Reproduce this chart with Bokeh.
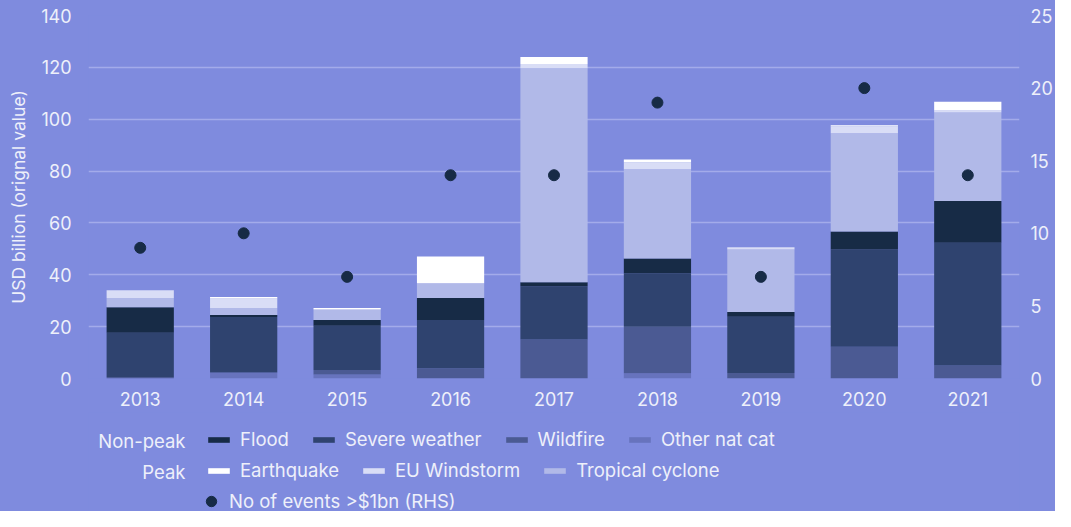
from bokeh.plotting import figure
from bokeh.models import (FactorRange, Range1d, LinearAxis, FixedTicker, Legend,
                          LegendItem, Label, ColumnDataSource)
from bokeh.layouts import column
from bokeh.embed import file_html
from bokeh.resources import INLINE

# ---- data (USD bn) ----
years = ["2013", "2014", "2015", "2016", "2017", "2018", "2019", "2020", "2021"]
other_nat_cat = [0.0, 2.3, 1.5, 0.0, 0.0, 2.0, 0.0, 0.0, 0.0]
wildfire = [0.6, 0.0, 1.8, 4.0, 15.0, 18.0, 2.1, 12.2, 5.0]
severe_weather = [17.0, 21.4, 17.0, 18.6, 20.6, 20.6, 21.7, 37.6, 47.4]
flood = [9.9, 0.8, 2.3, 8.4, 1.5, 5.7, 1.8, 6.9, 16.1]
tropical_cyclone = [3.5, 2.7, 4.0, 5.7, 82.6, 34.4, 24.2, 37.9, 34.1]
eu_windstorm = [3.0, 3.7, 0.0, 0.0, 1.6, 2.7, 0.8, 2.7, 0.8]
earthquake = [0.0, 0.5, 0.6, 10.4, 2.7, 1.1, 0.0, 0.4, 3.3]
events = [9, 10, 7, 14, 14, 19, 7, 20, 14]

left_ticks = [0, 20, 40, 60, 80, 100, 120, 140]
right_ticks = [0, 5, 10, 15, 20, 25]

BG = "#7f8bde"
TXT = "#eef0fa"
FONT = "Inter"
DOT = "#172b46"
stack_names = ["other_nat_cat", "wildfire", "severe_weather", "flood",
               "tropical_cyclone", "eu_windstorm", "earthquake"]
stack_colors = ["#6773bd", "#4b5a93", "#2f436f", "#172b46",
                "#b1b9e8", "#d9ddf6", "#ffffff"]

source = ColumnDataSource(dict(
    year=years, other_nat_cat=other_nat_cat, wildfire=wildfire,
    severe_weather=severe_weather, flood=flood,
    tropical_cyclone=tropical_cyclone, eu_windstorm=eu_windstorm,
    earthquake=earthquake, events=events))

W = 1055
BL, BR = 88, 33
p = figure(x_range=FactorRange(*years), y_range=Range1d(0, 140),
           width=W, height=412, output_backend="svg", toolbar_location=None,
           min_border_left=BL, min_border_right=BR, min_border_top=15,
           min_border_bottom=34, styles={"background-color": BG})
p.background_fill_color = BG
p.border_fill_color = BG
p.outline_line_color = None

p.extra_y_ranges = {"right": Range1d(0, 25)}

p.vbar_stack(stack_names, x="year", width=0.65, source=source,
             fill_color=stack_colors, line_color=None)
p.scatter(x="year", y="events", source=source, y_range_name="right",
          size=11, color=DOT)

# grid
p.xgrid.visible = False
p.ygrid.grid_line_color = "#a3abea"
p.ygrid.grid_line_width = 1.5
p.ygrid.ticker = FixedTicker(ticks=left_ticks)

# axes
def style_axis(ax):
    ax.axis_line_color = None
    ax.major_tick_line_color = None
    ax.minor_tick_line_color = None
    ax.major_tick_out = 0
    ax.major_tick_in = 0
    ax.minor_tick_out = 0
    ax.minor_tick_in = 0
    ax.major_label_text_color = TXT
    ax.major_label_text_font = FONT
    ax.major_label_text_font_size = "18px"

style_axis(p.xaxis[0])
p.xaxis[0].major_label_standoff = 13

yl = p.yaxis[0]
style_axis(yl)
yl.ticker = FixedTicker(ticks=left_ticks)
yl.major_label_standoff = 17
yl.axis_label = "USD billion (orignal value)"
yl.axis_label_text_color = TXT
yl.axis_label_text_font = FONT
yl.axis_label_text_font_size = "17.5px"
yl.axis_label_text_font_style = "normal"
yl.axis_label_standoff = 9

yr = LinearAxis(y_range_name="right", ticker=FixedTicker(ticks=right_ticks))
style_axis(yr)
yr.major_label_standoff = 11
p.add_layout(yr, "right")

# ---- legend panel (second figure, same background); its renderers use the
# real data but lie far outside its view range, so only legend swatches show
q = figure(x_range=FactorRange(*years), y_range=Range1d(1000, 1001), width=W,
           height=99, output_backend="svg", toolbar_location=None,
           x_axis_type=None, y_axis_type=None,
           min_border_left=BL, min_border_right=BR, min_border_top=0,
           min_border_bottom=0, styles={"background-color": BG})
q.background_fill_color = BG
q.border_fill_color = BG
q.outline_line_color = None
q.xgrid.visible = False
q.ygrid.visible = False

sw_list = q.vbar_stack(stack_names, x="year", width=0.65, source=source,
                       fill_color=stack_colors, line_color=None)
sw = dict(zip(stack_names, sw_list))
dot_sw = q.scatter(x="year", y="events", source=source, size=11, color=DOT)

LX = 205 - BL  # swatch start relative to frame

def make_legend(items, loc, gw, gh, standoff):
    lg = Legend(items=items, location=loc, orientation="horizontal",
                glyph_width=gw, glyph_height=gh, label_standoff=standoff,
                spacing=21, padding=0, margin=0, border_line_color=None,
                background_fill_alpha=0, label_text_color=TXT,
                label_text_font=FONT, label_text_font_size="18.5px",
                label_height=20)
    q.add_layout(lg)
    return lg

make_legend([LegendItem(label="Flood", renderers=[sw["flood"]]),
             LegendItem(label="Severe weather", renderers=[sw["severe_weather"]]),
             LegendItem(label="Wildfire", renderers=[sw["wildfire"]]),
             LegendItem(label="Other nat cat", renderers=[sw["other_nat_cat"]])],
            (LX, 61), 27, 7, 8)
make_legend([LegendItem(label="Earthquake", renderers=[sw["earthquake"]]),
             LegendItem(label="EU Windstorm", renderers=[sw["eu_windstorm"]]),
             LegendItem(label="Tropical cyclone", renderers=[sw["tropical_cyclone"]])],
            (LX, 30), 27, 7, 8)
make_legend([LegendItem(label="No of events >$1bn (RHS)", renderers=[dot_sw])],
            (LX - 7, -3), 26, 26, 5)

for txt, yy in [("Non-peak", 71), ("Peak", 40)]:
    q.add_layout(Label(x=185 - BL, y=yy, x_units="screen", y_units="screen",
                       text=txt, text_align="right", text_baseline="middle",
                       text_color=TXT, text_font=FONT, text_font_size="18.5px"))

layout = column(p, q, spacing=0, styles={"background-color": BG})
open("out.html", "w").write(file_html(layout, INLINE))
